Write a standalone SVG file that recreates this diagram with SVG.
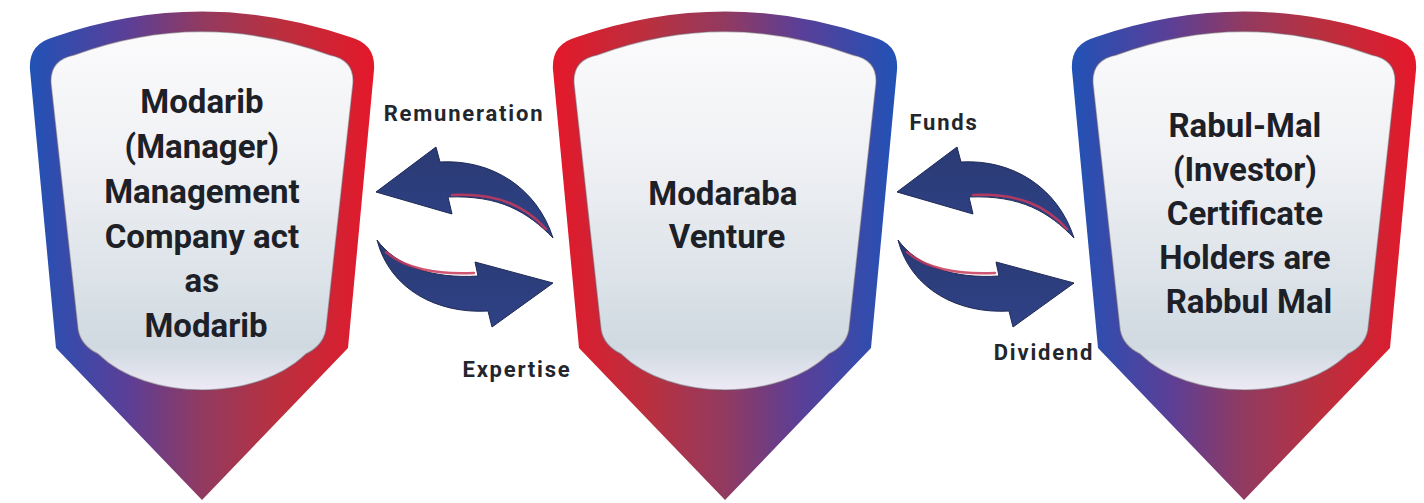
<svg xmlns="http://www.w3.org/2000/svg" width="1424" height="503" viewBox="0 0 1424 503">
  <defs>
    <!-- border gradients: blue→red and red→blue -->
    <linearGradient id="gBR" x1="0" y1="0" x2="1" y2="0">
      <stop offset="0" stop-color="#2152b6"/>
      <stop offset="0.28" stop-color="#5a3f98"/>
      <stop offset="0.5" stop-color="#923a60"/>
      <stop offset="0.72" stop-color="#b9303f"/>
      <stop offset="1" stop-color="#e4182a"/>
    </linearGradient>
    <linearGradient id="gRB" x1="0" y1="0" x2="1" y2="0">
      <stop offset="0" stop-color="#e4182a"/>
      <stop offset="0.28" stop-color="#b9303f"/>
      <stop offset="0.5" stop-color="#923a60"/>
      <stop offset="0.72" stop-color="#5a3f98"/>
      <stop offset="1" stop-color="#2152b6"/>
    </linearGradient>
    <!-- inner panel shading -->
    <linearGradient id="gPanel" x1="0" y1="0" x2="0" y2="1">
      <stop offset="0" stop-color="#fbfbfc"/>
      <stop offset="0.35" stop-color="#f0f1f4"/>
      <stop offset="0.7" stop-color="#dbe2e8"/>
      <stop offset="0.88" stop-color="#d0d9e1"/>
      <stop offset="1" stop-color="#eceaf5"/>
    </linearGradient>
    <linearGradient id="gArrow" x1="0" y1="0" x2="0" y2="1">
      <stop offset="0" stop-color="#2a3a74"/>
      <stop offset="1" stop-color="#2f4286"/>
    </linearGradient>
    <path id="outer" d="M -172,70 Q -174,44 -148,37 Q 0,-14 148,37 Q 174,44 172,70 L 146,348 L 0,500 L -146,348 Z"/>
    <path id="inner" d="M -151,84 Q -153,60 -128,55 Q 0,8 128,55 Q 153,60 151,84 L 124,330 Q 121,346 104,354 C 55,402 -55,402 -104,354 Q -121,346 -124,330 Z"/>
    <!-- one pair of exchange arrows -->
    <g id="swap">
      <path class="arrow" d="M 376,192 L 436,147 L 440,162 C 492,159 537,188 553,238 C 528,212 500,195 448,197 L 452,214 Z"/>
      <path class="glint" d="M 452,195 C 500,193 526,207 546,229"/>
      <path class="arrow" d="M 377,240 C 396,266 432,279 478,276 L 475,262 L 553,283 L 492,327 L 488,311 C 438,314 390,290 377,240 Z"/>
      <path class="glint" d="M 386,252 C 404,268 436,275 474,273"/>
    </g>
  </defs>
  <style>
    .panel { fill: url(#gPanel); stroke: #6b5a68; stroke-opacity: 0.45; stroke-width: 1.5; }
    .arrow { fill: url(#gArrow); stroke: #1f2a55; stroke-width: 1; stroke-linejoin: round; }
    .glint { fill: none; stroke: #c83a5c; stroke-width: 2.5; stroke-linecap: round; opacity: 0.85; }
    .title { font-family: Roboto, "Liberation Sans", sans-serif; font-weight: 700; font-size: 33px; fill: #1d2127; text-anchor: middle; }
    .label { font-family: Roboto, "Liberation Sans", sans-serif; font-weight: 700; font-size: 22px; letter-spacing: 1.8px; fill: #23272d; text-anchor: middle; }
  </style>

  <rect width="1424" height="503" fill="#ffffff"/>

  <g id="node-modarib" transform="translate(202,0)">
    <use href="#outer" fill="url(#gBR)"/>
    <use href="#inner" class="panel"/>
    <text class="title">
      <tspan x="4" y="113">Modarib</tspan>
      <tspan x="4" y="158">(Manager)</tspan>
      <tspan x="4" y="203">Management</tspan>
      <tspan x="4" y="248">Company act</tspan>
      <tspan x="4" y="292">as</tspan>
      <tspan x="4" y="337">Modarib</tspan>
    </text>
  </g>

  <g id="node-venture" transform="translate(725,0)">
    <use href="#outer" fill="url(#gRB)"/>
    <use href="#inner" class="panel"/>
    <text class="title">
      <tspan x="2" y="205">Modaraba</tspan>
      <tspan x="2" y="248">Venture</tspan>
    </text>
  </g>

  <g id="node-rabulmal" transform="translate(1244,0)">
    <use href="#outer" fill="url(#gBR)"/>
    <use href="#inner" class="panel"/>
    <text class="title">
      <tspan x="5" y="137">Rabul-Mal</tspan>
      <tspan x="5" y="181">(Investor)</tspan>
      <tspan x="5" y="225">Certificate</tspan>
      <tspan x="5" y="269">Holders are</tspan>
      <tspan x="5" y="313">Rabbul Mal</tspan>
    </text>
  </g>

  <g id="connectors">
    <use href="#swap"/>
    <use href="#swap" transform="translate(521,0)"/>
    <text class="label" x="464" y="121">Remuneration</text>
    <text class="label" x="517" y="377">Expertise</text>
    <text class="label" x="944" y="130">Funds</text>
    <text class="label" x="1044" y="360">Dividend</text>
  </g>
</svg>
